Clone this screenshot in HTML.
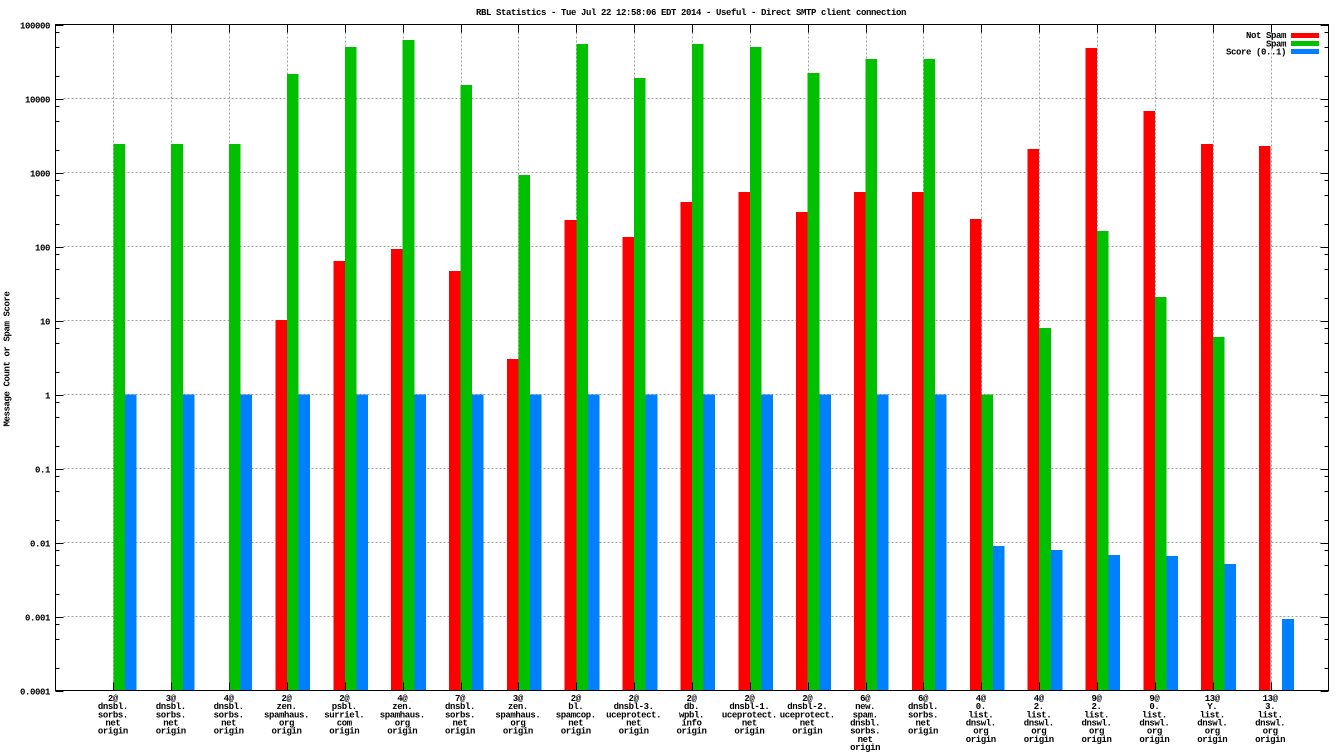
<!DOCTYPE html>
<html><head><meta charset="utf-8"><style>
html,body{margin:0;padding:0;background:#fff;}
svg{display:block;}
text{font-family:"Liberation Mono","DejaVu Sans Mono",monospace;font-size:9px;font-weight:bold;letter-spacing:-0.4px;fill:#000;}
</style></head><body>
<svg id="c" width="1344" height="756" viewBox="0 0 1344 756" xmlns="http://www.w3.org/2000/svg">
<rect width="1344" height="756" fill="#fff"/>
<g id="grid" stroke="#a0a0a0" stroke-width="1" stroke-dasharray="2,2" fill="none"></g>
<g id="bars" shape-rendering="crispEdges"></g>
<g id="axes" stroke="#000" stroke-width="1" fill="none" shape-rendering="crispEdges"></g>
<g id="txt"></g>
<text x="691" y="15" text-anchor="middle">RBL Statistics - Tue Jul 22 12:58:06 EDT 2014 - Useful - Direct SMTP client connection</text>
<text x="0" y="0" text-anchor="middle" transform="translate(9.5,359) rotate(-90)">Message Count or Spam Score</text>
<text x="1286" y="38" text-anchor="end">Not Spam</text>
<text x="1286" y="46.3" text-anchor="end">Spam</text>
<text x="1286" y="54.5" text-anchor="end">Score (0..1)</text>
<rect x="1291" y="33" width="28" height="5" fill="#ff0000"/>
<rect x="1291" y="41" width="28" height="5" fill="#00c000"/>
<rect x="1291" y="49" width="28" height="5" fill="#0080ff"/>
</svg>
<script>
(function(){
var NS="http://www.w3.org/2000/svg";
var L=55.5,R=1328.5,T=24.5,B=690.5,D=74,step=(R-L)/22,w=step*0.2;
function X(k){return L+k*step;}
function Y(v){return T+(5-Math.log10(v))*D;}
function el(p,tag,a,txt){var e=document.createElementNS(NS,tag);for(var k in a)e.setAttribute(k,a[k]);if(txt!==undefined)e.textContent=txt;p.appendChild(e);return e;}
var grid=document.getElementById('grid'),bars=document.getElementById('bars'),axes=document.getElementById('axes'),txt=document.getElementById('txt');
// horizontal grid
for(var e=-3;e<=4;e++){var y=Y(Math.pow(10,e));el(grid,'line',{x1:L+8,y1:y,x2:R-8,y2:y});}
for(var k=1;k<=21;k++){var x=Math.round(X(k))+0.5;el(grid,'line',{x1:x,y1:T+8,x2:x,y2:B});}
var red={4:320,5:261,6:249,7:271,8:359,9:220,10:237,11:202,12:192,13:212,14:192,15:192,16:219,17:149,18:48,19:111,20:144,21:146};
var green={1:144,2:144,3:144,4:74,5:47,6:40,7:85,8:175,9:44,10:78,11:44,12:47,13:73,14:59,15:59,16:394.5,17:328,18:231,19:297,20:337};
var blue={16:546,17:550,18:555,19:556,20:564,21:619};
for(var k=1;k<=21;k++){
 var x=X(k);
 if(red[k]!==undefined)el(bars,'rect',{x:(x-w).toFixed(2),y:red[k],width:w.toFixed(2),height:(B-red[k]).toFixed(2),fill:'#ff0000'});
 if(green[k]!==undefined)el(bars,'rect',{x:x.toFixed(2),y:green[k],width:w.toFixed(2),height:(B-green[k]).toFixed(2),fill:'#00c000'});
 var bt=blue[k]!==undefined?blue[k]:394.5;
 el(bars,'rect',{x:(x+w).toFixed(2),y:bt,width:w.toFixed(2),height:(B-bt).toFixed(2),fill:'#0080ff'});
}
// border
el(axes,'rect',{x:L,y:T,width:R-L,height:B-T});
// y ticks
var labs=['0.0001','0.001','0.01','0.1','1','10','100','1000','10000','100000'];
for(var e=-4;e<=5;e++){
 var y=Math.round(Y(Math.pow(10,e)))+0.5;
 el(axes,'line',{x1:L,y1:y,x2:L+8,y2:y});el(axes,'line',{x1:R,y1:y,x2:R-8,y2:y});
 el(txt,'text',{x:50,y:y+3,'text-anchor':'end'},labs[e+4]);
 if(e<5){[2,5,8].forEach(function(m){var yy=Math.round(Y(m*Math.pow(10,e)))+0.5;el(axes,'line',{x1:L,y1:yy,x2:L+4,y2:yy});el(axes,'line',{x1:R,y1:yy,x2:R-4,y2:yy});});}
}
// x ticks
for(var k=1;k<=21;k++){var x=Math.round(X(k))+0.5;el(axes,'line',{x1:x,y1:T,x2:x,y2:T+8});el(axes,'line',{x1:x,y1:B,x2:x,y2:B-8});}
var xl=[
['2@','dnsbl.','sorbs.','net','origin'],
['3@','dnsbl.','sorbs.','net','origin'],
['4@','dnsbl.','sorbs.','net','origin'],
['2@','zen.','spamhaus.','org','origin'],
['2@','psbl.','surriel.','com','origin'],
['4@','zen.','spamhaus.','org','origin'],
['7@','dnsbl.','sorbs.','net','origin'],
['3@','zen.','spamhaus.','org','origin'],
['2@','bl.','spamcop.','net','origin'],
['2@','dnsbl-3.','uceprotect.','net','origin'],
['2@','db.','wpbl.','info','origin'],
['2@','dnsbl-1.','uceprotect.','net','origin'],
['2@','dnsbl-2.','uceprotect.','net','origin'],
['6@','new.','spam.','dnsbl.','sorbs.','net','origin'],
['6@','dnsbl.','sorbs.','net','origin'],
['4@','0.','list.','dnswl.','org','origin'],
['4@','2.','list.','dnswl.','org','origin'],
['9@','2.','list.','dnswl.','org','origin'],
['9@','0.','list.','dnswl.','org','origin'],
['13@','Y.','list.','dnswl.','org','origin'],
['13@','3.','list.','dnswl.','org','origin']];
for(var k=1;k<=21;k++){var lines=xl[k-1];for(var i=0;i<lines.length;i++){el(txt,'text',{x:(X(k)-0.5).toFixed(1),y:(701+i*8.15).toFixed(1),'text-anchor':'middle'},lines[i]);}}
})();
</script>
</body></html>
